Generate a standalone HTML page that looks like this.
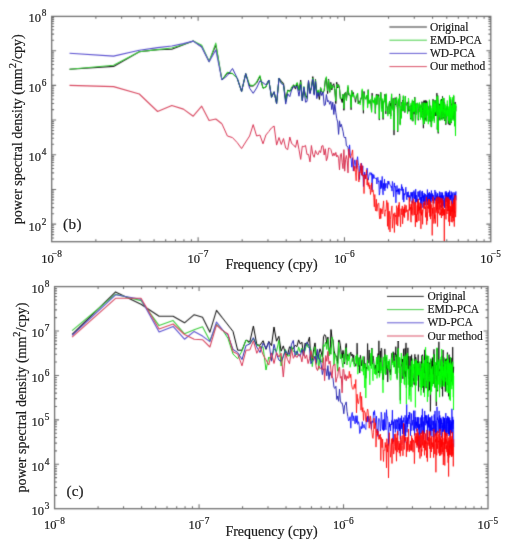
<!DOCTYPE html>
<html><head><meta charset="utf-8"><style>
html,body{margin:0;padding:0;background:#fff;width:512px;height:550px;overflow:hidden}
svg{display:block}

text{font-family:"Liberation Serif",serif;fill:#1a1a1a;stroke:#1a1a1a;stroke-width:0.2px}
.t{opacity:0.995}
</style></head><body>
<svg width="512" height="550" viewBox="0 0 512 550">
<defs><filter id="bl" x="0" y="0" width="512" height="550" filterUnits="userSpaceOnUse" color-interpolation-filters="sRGB"><feConvolveMatrix order="3" kernelMatrix="0.0192 0.1001 0.0192 0.1001 0.5228 0.1001 0.0192 0.1001 0.0192" divisor="1" edgeMode="none"/></filter></defs>
<rect width="512" height="550" fill="#fff"/>
<g class="t">
<g filter="url(#bl)"><g fill="none" stroke-width="0.8" stroke-linejoin="round"><path stroke="#222" stroke-width="1.1" d="M69.5 69.3L113.6 66.4 139.3 51.7 157.6 49.6 171.8 49.2 183.4 44.8 193.2 40.9 201.7 46.8 209.1 61.6 215.8 45.0 221.9 80.0"/><path stroke="#000" stroke-width="1.0" d="M221.9 80.0L227.4 73.0 232.5 73.6 237.2 78.2 241.6 91.5 245.7 73.6 249.6 86.0 253.2 86.0 256.6 83.0 259.9 76.5 263.0 88.2 265.9 87.0 268.8 80.0 271.5 97.3 274.1 91.8 276.6 103.6 279.0 78.2 281.3 81.1 283.5 83.4 285.7 100.1 287.7 90.2 289.8 90.8 291.7 89.9 293.6 84.8 295.5 89.1 297.2 83.3 299.0 90.4 300.7 80.1 302.3 99.7 303.9 88.7 305.5 95.3 307.0 97.4 308.5 80.7 310.0 92.8 311.4 87.2 312.8 76.6 314.2 93.9 315.5 79.5 316.8 93.3 318.1 91.3 319.4 99.5 320.6 87.7 321.8 91.9 323.0 92.7 324.2 90.4 325.3 80.4 326.4 77.6 327.6 93.6 328.6 79.3 329.7 92.2 330.8 82.4 331.8 89.9 332.8 85.2 333.8 83.7 334.8 90.0 335.8 103.6 336.7 82.2 337.7 88.0 338.6 84.6 339.5 88.3 340.4 98.6 341.3 99.0 342.2 102.5 343.0 94.5 343.9 110.3 344.7 93.2 345.6 92.5 346.4 100.0 347.2 92.5 348.0 87.5 348.8 95.1"/><path stroke="#000" d="M348.8 95.1L349.6 95.3 350.3 95.3 351.1 109.8 351.8 90.4 352.6 95.7 353.3 92.4 354.0 97.3 354.8 98.5 355.5 102.3 356.2 97.9 356.9 95.8 357.6 93.3 358.2 103.9 358.9 100.6 359.6 102.8 360.2 103.1 360.9 97.8 361.5 98.7 362.2 90.3 362.8 96.7 363.4 113.3 364.0 91.4 364.7 97.4 365.3 98.5 365.9 99.2 366.5 95.9 367.1 95.3 367.6 106.9 368.2 89.6 368.8 103.2 369.4 102.8 369.9 100.4 370.5 101.1 371.1 106.6 371.6 111.5 372.1 93.1 372.7 99.9 373.2 102.0 373.8 100.5 374.3 103.0 374.8 98.7 375.3 113.5 375.8 103.4 376.4 94.2 376.9 104.4 377.4 96.3 377.9 94.3 378.4 96.7 378.8 94.7 379.3 120.1 379.8 101.0 380.3 99.5 380.8 92.3 381.2 97.9 381.7 108.6 382.2 101.7 382.6 100.5 383.1 119.5 383.6 102.0 384.0 102.4 384.5 97.7 384.9 94.2 385.3 100.7 385.8 113.9 386.2 94.5 386.7 105.7 387.1 107.0 387.5 108.3 387.9 114.3 388.4 105.6 388.8 105.2 389.2 103.7 389.6 101.0 390.0 114.0 390.4 103.2 390.8 116.2 391.2 101.6 391.6 93.9 392.0 108.3 392.4 108.8 392.8 104.6 393.2 98.3 393.6 110.1 394.0 135.1 394.4 112.5 394.8 104.2 395.1 97.6 395.5 105.1 395.9 102.7 396.3 102.5 396.6 98.0 397.0 106.7 397.4 107.5 397.7 132.0 398.1 101.8 398.5 99.5 398.8 101.7 399.2 106.0 399.5 93.9 399.9 96.1 400.2 124.3 400.6 113.0 400.9 109.2 401.3 117.8 401.6 108.0 401.9 102.1 402.3 103.8 402.6 100.2 403.0 111.2 403.3 96.4 403.6 101.3 404.0 110.7 404.3 107.3 404.6 103.9 404.9 112.6 405.3 96.3 405.6 102.4 405.9 104.7 406.2 105.0 406.5 105.2 406.9 104.9 407.2 102.2 407.5 112.8 407.8 111.8 408.1 109.4 408.4 101.1 408.7 101.7 409.0 111.3 409.3 107.4 409.6 106.6 409.9 107.8 410.2 108.2 410.5 119.2 410.8 111.3 411.1 104.7 411.4 119.1 411.7 111.7 412.0 108.6 412.3 101.4 412.6 116.0 412.9 121.3 413.1 100.9 413.4 111.9 413.7 107.1 414.0 114.2 414.3 107.9 414.5 109.7 414.8 97.1 415.1 112.9 415.4 123.7 415.7 117.2 415.9 103.6 416.2 112.0 416.5 106.9 416.7 113.3 417.0 103.5 417.3 103.2 417.5 106.6 417.8 103.9 418.1 107.7 418.3 120.3 418.6 113.5 418.9 109.2 419.1 108.5 419.4 103.0 419.6 105.6 419.9 111.6 420.1 106.8 420.4 117.2 420.7 105.6 420.9 109.2 421.2 117.0 421.4 106.7 421.7 114.6 421.9 101.7 422.2 102.2 422.4 111.4 422.6 108.0 422.9 118.7 423.1 116.3 423.4 128.2 423.6 102.7 423.9 100.6 424.1 123.9 424.3 115.3 424.6 100.7 424.8 112.7 425.1 119.7 425.3 117.6 425.5 109.5 425.8 100.2 426.0 116.3 426.2 120.9 426.5 101.4 426.7 100.9 426.9 111.9 427.1 113.3 427.4 103.7 427.6 112.1 427.8 105.8 428.1 107.4 428.3 121.4 428.5 111.2 428.7 120.6 429.0 119.8 429.2 120.0 429.4 100.8 429.6 102.7 429.8 117.4 430.1 121.5 430.3 120.6 430.5 106.7 430.7 105.9 430.9 119.8 431.1 125.7 431.4 127.1 431.6 126.2 431.8 111.5 432.0 114.7 432.2 111.3 432.4 110.5 432.6 118.9 432.8 108.1 433.0 99.2 433.2 117.5 433.5 112.8 433.7 100.7 433.9 108.1 434.1 105.9 434.3 120.8 434.5 103.0 434.7 107.9 434.9 112.8 435.1 100.0 435.3 115.9 435.5 102.3 435.7 114.1 435.9 107.0 436.1 115.6 436.3 113.3 436.5 111.9 436.7 113.3 436.9 93.1 437.1 106.3 437.3 129.5 437.5 123.2 437.7 95.5 437.9 100.5 438.0 100.3 438.2 133.4 438.4 108.5 438.6 103.5 438.8 104.7 439.0 120.4 439.2 106.6 439.4 108.3 439.6 104.0 439.8 113.9 439.9 110.8 440.1 113.8 440.3 105.7 440.5 101.3 440.7 119.0 440.9 100.4 441.1 119.5 441.2 116.9 441.4 99.0 441.6 110.9 441.8 109.7 442.0 105.0 442.1 109.6 442.3 106.0 442.5 96.3 442.7 116.8 442.9 118.9 443.0 108.4 443.2 118.2 443.4 112.2 443.6 116.8 443.8 98.2 443.9 102.1 444.1 109.1 444.3 107.6 444.5 104.7 444.6 102.7 444.8 121.0 445.0 112.3 445.1 109.9 445.3 108.4 445.5 110.9 445.7 112.0 445.8 124.8 446.0 119.1 446.2 117.8 446.3 107.5 446.5 117.2 446.7 111.3 446.8 111.6 447.0 112.5 447.2 107.6 447.3 104.3 447.5 116.1 447.7 113.3 447.8 116.0 448.0 112.7 448.2 115.4 448.3 123.8 448.5 109.6 448.7 109.4 448.8 120.8 449.0 121.0 449.1 124.7 449.3 120.2 449.5 96.3 449.6 120.4 449.8 103.6 450.0 125.1 450.1 102.4 450.3 116.1 450.4 105.1 450.6 116.1 450.7 99.4 450.9 104.8 451.1 103.7 451.2 113.3 451.4 123.1 451.5 114.3 451.7 107.0 451.8 120.0 452.0 113.4 452.2 117.6 452.3 108.9 452.5 99.7 452.6 118.0 452.8 106.0 452.9 116.8 453.1 112.1 453.2 119.2 453.4 101.8 453.5 108.3 453.7 96.0 453.8 104.0 454.0 110.2 454.1 103.4 454.3 109.6 454.4 109.2 454.6 104.7 454.7 125.7 454.9 125.8 455.0 108.5 455.2 102.0 455.3 107.1 455.5 136.0 455.6 107.3 455.7 111.0 455.9 106.3 456.0 106.0"/><path stroke="#3ccc3c" stroke-width="1.1" d="M69.5 69.3L113.6 65.2 139.3 51.7 157.6 49.6 171.8 48.0 183.4 44.5 193.2 40.9 201.7 45.3 209.1 61.6 215.8 43.1 221.9 80.0"/><path stroke="#18d018" stroke-width="1.0" d="M221.9 80.0L227.4 72.2 232.5 73.6 237.2 78.2 241.6 91.5 245.7 73.6 249.6 85.0 253.2 85.5 256.6 82.0 259.9 75.5 263.0 88.2 265.9 87.0 268.8 80.0 271.5 97.3 274.1 91.8 276.6 103.6 279.0 78.2 281.3 82.7 283.5 84.8 285.7 102.1 287.7 90.5 289.8 91.9 291.7 86.8 293.6 85.3 295.5 86.0 297.2 82.5 299.0 90.4 300.7 81.7 302.3 101.0 303.9 86.4 305.5 96.5 307.0 98.6 308.5 81.7 310.0 91.6 311.4 88.0 312.8 78.0 314.2 93.6 315.5 80.4 316.8 95.0 318.1 89.9 319.4 95.0 320.6 87.9 321.8 91.4 323.0 92.8 324.2 90.4 325.3 80.9 326.4 76.7 327.6 90.8 328.6 80.0 329.7 92.3 330.8 83.5 331.8 88.5 332.8 85.8 333.8 86.7 334.8 89.3 335.8 101.1 336.7 84.1 337.7 87.0 338.6 85.2 339.5 88.5 340.4 99.1 341.3 98.0 342.2 98.6 343.0 94.0 343.9 108.7 344.7 94.5 345.6 92.7 346.4 100.7 347.2 92.0 348.0 85.3 348.8 94.4"/><path stroke="#00ff00" d="M348.8 94.4L349.6 93.5 350.3 95.7 351.1 107.5 351.8 90.8 352.6 96.7 353.3 93.9 354.0 95.8 354.8 97.3 355.5 99.1 356.2 95.8 356.9 94.7 357.6 93.1 358.2 103.6 358.9 102.6 359.6 102.8 360.2 104.9 360.9 98.8 361.5 99.2 362.2 88.8 362.8 96.4 363.4 110.2 364.0 93.4 364.7 98.0 365.3 99.3 365.9 97.7 366.5 96.0 367.1 95.1 367.6 108.1 368.2 90.1 368.8 104.0 369.4 103.6 369.9 100.0 370.5 99.4 371.1 105.7 371.6 112.4 372.1 95.7 372.7 101.2 373.2 102.9 373.8 100.2 374.3 104.3 374.8 97.6 375.3 112.8 375.8 103.0 376.4 95.3 376.9 104.7 377.4 95.7 377.9 95.2 378.4 97.1 378.8 96.8 379.3 118.9 379.8 98.2 380.3 99.8 380.8 92.7 381.2 99.1 381.7 111.6 382.2 100.2 382.6 98.6 383.1 118.1 383.6 101.0 384.0 101.7 384.5 99.8 384.9 95.4 385.3 101.1 385.8 111.2 386.2 93.6 386.7 105.4 387.1 107.0 387.5 108.5 387.9 116.2 388.4 107.5 388.8 105.4 389.2 102.8 389.6 101.2 390.0 114.0 390.4 106.4 390.8 119.0 391.2 101.1 391.6 93.9 392.0 103.2 392.4 110.3 392.8 104.9 393.2 99.0 393.6 110.5 394.0 130.1 394.4 111.6 394.8 106.3 395.1 98.8 395.5 103.8 395.9 102.9 396.3 101.6 396.6 96.9 397.0 106.0 397.4 109.8 397.7 131.2 398.1 101.7 398.5 98.7 398.8 103.2 399.2 107.6 399.5 95.4 399.9 96.6 400.2 125.2 400.6 106.0 400.9 107.2 401.3 118.6 401.6 109.7 401.9 103.2 402.3 104.3 402.6 101.4 403.0 110.8 403.3 95.4 403.6 100.0 404.0 111.1 404.3 106.1 404.6 102.7 404.9 111.6 405.3 96.6 405.6 104.1 405.9 104.2 406.2 104.7 406.5 104.9 406.9 104.8 407.2 103.7 407.5 113.9 407.8 109.3 408.1 108.0 408.4 98.1 408.7 99.3 409.0 108.7 409.3 110.0 409.6 107.2 409.9 108.4 410.2 106.9 410.5 118.3 410.8 108.8 411.1 103.0 411.4 120.4 411.7 113.6 412.0 109.7 412.3 99.7 412.6 114.3 412.9 121.0 413.1 102.1 413.4 111.9 413.7 101.5 414.0 112.1 414.3 105.5 414.5 111.1 414.8 97.7 415.1 110.3 415.4 125.0 415.7 117.4 415.9 103.9 416.2 110.5 416.5 104.1 416.7 114.7 417.0 104.1 417.3 102.7 417.5 107.6 417.8 103.8 418.1 108.6 418.3 119.4 418.6 112.5 418.9 110.2 419.1 107.2 419.4 102.3 419.6 107.0 419.9 112.0 420.1 108.0 420.4 119.8 420.7 104.5 420.9 108.0 421.2 117.8 421.4 107.3 421.7 115.6 421.9 104.4 422.2 102.8 422.4 110.8 422.6 110.2 422.9 120.2 423.1 116.2 423.4 124.4 423.6 105.9 423.9 102.8 424.1 123.2 424.3 113.8 424.6 102.6 424.8 110.5 425.1 117.9 425.3 117.3 425.5 108.0 425.8 103.0 426.0 114.8 426.2 121.6 426.5 103.6 426.7 103.2 426.9 112.2 427.1 113.5 427.4 101.7 427.6 115.5 427.8 106.5 428.1 109.7 428.3 124.2 428.5 109.7 428.7 121.9 429.0 118.2 429.2 119.1 429.4 99.7 429.6 102.3 429.8 120.1 430.1 118.9 430.3 120.4 430.5 107.0 430.7 105.6 430.9 117.3 431.1 126.5 431.4 125.1 431.6 126.4 431.8 108.3 432.0 115.7 432.2 110.3 432.4 106.8 432.6 121.2 432.8 108.6 433.0 100.3 433.2 118.7 433.5 110.7 433.7 101.0 433.9 108.8 434.1 102.4 434.3 122.8 434.5 103.4 434.7 110.1 434.9 112.6 435.1 100.3 435.3 112.1 435.5 102.9 435.7 111.4 435.9 107.4 436.1 114.8 436.3 114.1 436.5 112.0 436.7 111.4 436.9 96.6 437.1 109.0 437.3 129.5 437.5 120.9 437.7 95.6 437.9 102.9 438.0 100.3 438.2 132.1 438.4 109.9 438.6 103.5 438.8 103.4 439.0 117.3 439.2 105.3 439.4 105.2 439.6 105.6 439.8 114.6 439.9 109.5 440.1 113.4 440.3 106.4 440.5 99.8 440.7 120.5 440.9 100.1 441.1 118.4 441.2 116.7 441.4 100.8 441.6 110.2 441.8 111.7 442.0 105.1 442.1 110.5 442.3 108.2 442.5 97.8 442.7 120.2 442.9 118.5 443.0 108.9 443.2 117.4 443.4 116.0 443.6 117.0 443.8 97.9 443.9 101.2 444.1 112.5 444.3 108.1 444.5 104.6 444.6 103.0 444.8 119.9 445.0 110.1 445.1 113.8 445.3 104.5 445.5 110.7 445.7 112.7 445.8 123.6 446.0 118.9 446.2 116.1 446.3 106.1 446.5 116.7 446.7 115.0 446.8 110.5 447.0 113.9 447.2 109.8 447.3 100.5 447.5 115.8 447.7 109.8 447.8 116.0 448.0 110.0 448.2 118.6 448.3 120.6 448.5 107.7 448.7 106.5 448.8 119.8 449.0 121.3 449.1 123.4 449.3 116.7 449.5 95.4 449.6 121.8 449.8 103.3 450.0 123.8 450.1 103.6 450.3 117.9 450.4 103.1 450.6 114.4 450.7 97.2 450.9 104.7 451.1 106.7 451.2 109.4 451.4 122.5 451.5 114.2 451.7 106.4 451.8 119.1 452.0 112.4 452.2 118.9 452.3 107.8 452.5 97.3 452.6 113.0 452.8 107.8 452.9 115.5 453.1 110.0 453.2 120.7 453.4 104.7 453.5 107.9 453.7 94.9 453.8 104.2 454.0 111.1 454.1 104.2 454.3 109.2 454.4 110.8 454.6 103.7 454.7 126.3 454.9 126.4 455.0 111.4 455.2 104.0 455.3 109.5 455.5 136.0 455.6 109.8 455.7 111.9 455.9 104.2 456.0 107.7"/><path stroke="#5a50d0" stroke-width="1.1" d="M69.5 53.2L113.6 56.1 139.3 50.2 157.6 47.6 171.8 46.0 183.4 43.6 193.2 41.1 201.7 47.0 209.1 61.8 215.8 50.0 221.9 80.0"/><path stroke="#2828b0" stroke-width="1.0" d="M221.9 80.0L227.4 75.5 232.5 68.5 237.2 78.2 241.6 91.5 245.7 73.6 249.6 88.2 253.2 93.3 256.6 88.0 259.9 80.9 263.0 82.7 265.9 85.0 268.8 80.0 271.5 97.3 274.1 91.8 276.6 103.6 279.0 78.2 281.3 83.6 283.5 84.7 285.7 104.1 287.7 93.8 289.8 96.6 291.7 89.5 293.6 86.6 295.5 86.9 297.2 86.5 299.0 96.2 300.7 84.7 302.3 101.0 303.9 87.0 305.5 102.2 307.0 101.5 308.5 80.7 310.0 93.9 311.4 88.2 312.8 79.2 314.2 95.2 315.5 81.5 316.8 98.6 318.1 92.3 319.4 96.3 320.6 91.3 321.8 95.6 323.0 92.1 324.2 105.5 325.3 104.8 326.4 94.5 327.6 101.8 328.6 100.5 329.7 104.3 330.8 101.3 331.8 109.6 332.8 102.2 333.8 114.5 334.8 104.3 335.8 112.3 336.7 118.5 337.7 122.0 338.6 134.4 339.5 120.8 340.4 126.9 341.3 124.3 342.2 128.0 343.0 131.2 343.9 136.6 344.7 138.0 345.6 137.0 346.4 145.8 347.2 146.0 348.0 147.0 348.8 155.1"/><path stroke="#0000ff" d="M348.8 155.1L349.6 144.9 350.3 155.3 351.1 158.6 351.8 167.2 352.6 157.7 353.3 171.0 354.0 166.2 354.8 159.8 355.5 162.5 356.2 168.6 356.9 160.7 357.6 156.7 358.2 163.1 358.9 165.7 359.6 179.5 360.2 166.0 360.9 170.4 361.5 163.2 362.2 175.6 362.8 165.9 363.4 186.5 364.0 178.4 364.7 172.1 365.3 179.1 365.9 174.2 366.5 175.0 367.1 168.1 367.6 173.8 368.2 180.1 368.8 176.7 369.4 173.8 369.9 172.4 370.5 172.8 371.1 175.2 371.6 172.8 372.1 190.1 372.7 173.9 373.2 178.7 373.8 174.7 374.3 176.6 374.8 178.4 375.3 178.3 375.8 178.7 376.4 177.8 376.9 184.0 377.4 178.5 377.9 177.3 378.4 181.7 378.8 181.0 379.3 195.1 379.8 192.5 380.3 180.4 380.8 189.0 381.2 180.6 381.7 187.7 382.2 176.4 382.6 190.8 383.1 194.9 383.6 183.2 384.0 189.2 384.5 179.1 384.9 190.9 385.3 183.4 385.8 187.8 386.2 184.7 386.7 183.4 387.1 183.9 387.5 188.4 387.9 181.0 388.4 184.3 388.8 181.1 389.2 183.2 389.6 183.3 390.0 185.2 390.4 185.7 390.8 185.6 391.2 187.6 391.6 186.3 392.0 191.1 392.4 181.4 392.8 183.7 393.2 189.5 393.6 196.8 394.0 191.7 394.4 182.9 394.8 187.1 395.1 186.1 395.5 186.6 395.9 202.8 396.3 190.1 396.6 191.9 397.0 185.5 397.4 191.4 397.7 189.7 398.1 194.4 398.5 188.8 398.8 191.8 399.2 188.4 399.5 194.5 399.9 191.7 400.2 189.6 400.6 189.2 400.9 189.9 401.3 188.7 401.6 184.4 401.9 190.8 402.3 186.8 402.6 188.9 403.0 199.8 403.3 188.9 403.6 202.1 404.0 201.5 404.3 193.4 404.6 195.1 404.9 194.2 405.3 194.2 405.6 188.4 405.9 187.2 406.2 193.3 406.5 199.1 406.9 199.8 407.2 192.1 407.5 196.9 407.8 196.4 408.1 191.9 408.4 191.8 408.7 197.5 409.0 195.0 409.3 196.6 409.6 196.0 409.9 201.5 410.2 197.7 410.5 198.2 410.8 192.3 411.1 193.3 411.4 196.4 411.7 192.4 412.0 196.1 412.3 203.4 412.6 192.2 412.9 191.9 413.1 198.5 413.4 193.7 413.7 191.2 414.0 190.5 414.3 191.1 414.5 198.9 414.8 196.8 415.1 192.4 415.4 204.3 415.7 189.1 415.9 199.4 416.2 195.1 416.5 197.7 416.7 201.9 417.0 199.0 417.3 202.8 417.5 201.7 417.8 191.8 418.1 191.8 418.3 193.5 418.6 196.7 418.9 195.1 419.1 191.1 419.4 199.8 419.6 198.9 419.9 191.4 420.1 190.4 420.4 196.3 420.7 208.8 420.9 197.1 421.2 204.5 421.4 197.1 421.7 201.2 421.9 191.6 422.2 198.0 422.4 190.9 422.6 197.4 422.9 207.7 423.1 203.2 423.4 195.4 423.6 201.8 423.9 196.9 424.1 192.9 424.3 199.8 424.6 204.8 424.8 194.3 425.1 205.4 425.3 194.1 425.5 194.4 425.8 195.7 426.0 199.5 426.2 201.6 426.5 199.2 426.7 197.0 426.9 195.0 427.1 201.1 427.4 189.5 427.6 205.1 427.8 201.7 428.1 201.2 428.3 196.1 428.5 193.3 428.7 200.0 429.0 198.1 429.2 201.2 429.4 192.0 429.6 200.2 429.8 197.4 430.1 194.7 430.3 198.9 430.5 207.8 430.7 193.4 430.9 201.3 431.1 202.4 431.4 190.5 431.6 193.3 431.8 199.2 432.0 198.1 432.2 194.7 432.4 201.0 432.6 193.5 432.8 198.7 433.0 198.1 433.2 195.0 433.5 196.8 433.7 196.9 433.9 203.5 434.1 201.4 434.3 197.8 434.5 198.5 434.7 200.2 434.9 190.0 435.1 194.3 435.3 200.7 435.5 199.5 435.7 197.6 435.9 191.8 436.1 196.6 436.3 198.3 436.5 198.0 436.7 195.5 436.9 195.6 437.1 209.0 437.3 193.8 437.5 198.4 437.7 193.2 437.9 195.0 438.0 196.6 438.2 201.2 438.4 198.0 438.6 196.5 438.8 203.3 439.0 201.5 439.2 204.1 439.4 191.6 439.6 193.4 439.8 197.5 439.9 196.0 440.1 197.5 440.3 195.5 440.5 202.3 440.7 201.6 440.9 192.2 441.1 196.8 441.2 206.0 441.4 207.7 441.6 196.5 441.8 195.1 442.0 197.9 442.1 192.4 442.3 206.2 442.5 192.9 442.7 197.2 442.9 204.6 443.0 200.2 443.2 206.3 443.4 199.0 443.6 195.9 443.8 195.3 443.9 198.0 444.1 198.9 444.3 198.7 444.5 198.7 444.6 207.9 444.8 201.8 445.0 198.2 445.1 192.9 445.3 191.6 445.5 196.4 445.7 202.0 445.8 198.0 446.0 194.7 446.2 191.3 446.3 201.8 446.5 193.1 446.7 194.5 446.8 197.8 447.0 192.6 447.2 195.0 447.3 196.3 447.5 203.0 447.7 195.3 447.8 195.7 448.0 203.4 448.2 208.7 448.3 193.0 448.5 195.7 448.7 192.1 448.8 198.4 449.0 195.1 449.1 204.3 449.3 196.0 449.5 190.6 449.6 191.2 449.8 195.2 450.0 197.4 450.1 197.7 450.3 200.0 450.4 195.1 450.6 200.2 450.7 199.9 450.9 197.3 451.1 197.7 451.2 191.5 451.4 197.3 451.5 195.4 451.7 194.8 451.8 204.0 452.0 196.9 452.2 192.5 452.3 194.0 452.5 195.2 452.6 194.8 452.8 207.1 452.9 211.5 453.1 201.6 453.2 200.3 453.4 198.6 453.5 200.1 453.7 196.3 453.8 195.7 454.0 192.2 454.1 195.1 454.3 199.8 454.4 203.6 454.6 196.0 454.7 198.6 454.9 193.5 455.0 193.7 455.2 197.1 455.3 194.1 455.5 196.2 455.6 194.2 455.7 194.1 455.9 191.5 456.0 200.3"/><path stroke="#d84860" stroke-width="1.1" d="M69.5 85.4L113.6 86.6 139.3 94.0 157.6 111.5 171.8 105.5 183.4 109.1 193.2 116.2 201.7 106.2 209.1 120.5 215.8 119.0 221.9 123.7"/><path stroke="#d83050" stroke-width="1.0" d="M221.9 123.7L227.4 136.0 232.5 137.6 237.2 142.6 241.6 148.6 245.7 142.0 249.6 136.0 253.2 124.6 256.6 136.0 259.9 135.0 263.0 143.8 265.9 135.0 268.8 131.5 271.5 127.9 274.1 126.0 276.6 145.1 279.0 137.5 281.3 144.5 283.5 138.5 285.7 148.2 287.7 149.6 289.8 137.0 291.7 143.6 293.6 145.0 295.5 147.4 297.2 139.9 299.0 149.6 300.7 159.4 302.3 146.2 303.9 146.7 305.5 145.4 307.0 154.4 308.5 154.4 310.0 161.9 311.4 145.5 312.8 154.5 314.2 157.3 315.5 150.5 316.8 153.8 318.1 154.7 319.4 150.7 320.6 152.6 321.8 146.0 323.0 145.6 324.2 155.0 325.3 148.8 326.4 160.8 327.6 157.1 328.6 148.1 329.7 148.2 330.8 149.3 331.8 153.0 332.8 156.1 333.8 153.0 334.8 155.6 335.8 152.4 336.7 157.0 337.7 155.3 338.6 158.3 339.5 169.9 340.4 154.5 341.3 153.4 342.2 162.7 343.0 168.7 343.9 149.6 344.7 171.2 345.6 159.3 346.4 155.5 347.2 160.3 348.0 172.9 348.8 148.9"/><path stroke="#ff0000" d="M348.8 148.9L349.6 156.8 350.3 158.2 351.1 155.9 351.8 154.0 352.6 149.9 353.3 164.3 354.0 171.2 354.8 166.2 355.5 172.7 356.2 180.8 356.9 159.9 357.6 167.8 358.2 171.2 358.9 182.0 359.6 172.0 360.2 172.7 360.9 163.3 361.5 175.1 362.2 165.6 362.8 176.2 363.4 174.9 364.0 193.6 364.7 174.6 365.3 175.2 365.9 178.7 366.5 169.8 367.1 185.0 367.6 178.6 368.2 186.4 368.8 182.6 369.4 188.8 369.9 184.9 370.5 194.5 371.1 189.6 371.6 182.9 372.1 192.1 372.7 190.3 373.2 190.0 373.8 197.7 374.3 206.8 374.8 194.5 375.3 208.7 375.8 211.0 376.4 199.3 376.9 211.3 377.4 206.9 377.9 203.6 378.4 203.4 378.8 203.2 379.3 215.5 379.8 219.0 380.3 208.3 380.8 218.5 381.2 208.8 381.7 212.2 382.2 213.9 382.6 208.4 383.1 206.2 383.6 200.9 384.0 212.4 384.5 214.7 384.9 216.3 385.3 210.2 385.8 210.8 386.2 208.3 386.7 200.3 387.1 202.6 387.5 226.3 387.9 202.6 388.4 210.6 388.8 229.5 389.2 211.3 389.6 211.3 390.0 232.0 390.4 219.5 390.8 215.7 391.2 212.9 391.6 207.6 392.0 205.9 392.4 228.2 392.8 221.1 393.2 217.9 393.6 213.7 394.0 216.4 394.4 232.5 394.8 212.7 395.1 216.0 395.5 216.7 395.9 215.0 396.3 224.5 396.6 205.7 397.0 208.1 397.4 208.1 397.7 226.0 398.1 216.0 398.5 204.9 398.8 216.7 399.2 202.3 399.5 211.1 399.9 216.4 400.2 216.4 400.6 226.8 400.9 208.8 401.3 208.7 401.6 212.4 401.9 214.9 402.3 205.9 402.6 223.9 403.0 216.6 403.3 216.7 403.6 208.8 404.0 216.1 404.3 206.9 404.6 217.6 404.9 204.6 405.3 211.1 405.6 212.5 405.9 212.5 406.2 205.4 406.5 211.6 406.9 211.4 407.2 209.8 407.5 212.3 407.8 220.6 408.1 220.3 408.4 217.1 408.7 209.6 409.0 210.2 409.3 197.4 409.6 210.4 409.9 204.3 410.2 209.0 410.5 207.3 410.8 220.8 411.1 222.2 411.4 203.9 411.7 214.5 412.0 200.7 412.3 206.5 412.6 210.9 412.9 215.5 413.1 213.2 413.4 198.7 413.7 199.9 414.0 211.3 414.3 214.9 414.5 210.5 414.8 201.9 415.1 213.6 415.4 226.9 415.7 202.5 415.9 208.0 416.2 214.7 416.5 222.1 416.7 214.3 417.0 222.2 417.3 205.4 417.5 214.4 417.8 201.0 418.1 211.2 418.3 198.9 418.6 209.0 418.9 220.9 419.1 202.5 419.4 210.2 419.6 206.8 419.9 212.1 420.1 213.4 420.4 204.5 420.7 202.9 420.9 228.8 421.2 204.0 421.4 215.4 421.7 212.4 421.9 212.1 422.2 214.3 422.4 209.7 422.6 224.3 422.9 213.2 423.1 211.7 423.4 202.9 423.6 204.2 423.9 204.6 424.1 208.6 424.3 201.2 424.6 201.9 424.8 208.8 425.1 208.9 425.3 206.6 425.5 217.3 425.8 207.9 426.0 206.1 426.2 198.6 426.5 197.0 426.7 224.7 426.9 216.6 427.1 212.4 427.4 220.7 427.6 206.6 427.8 207.8 428.1 201.3 428.3 208.8 428.5 199.0 428.7 200.4 429.0 208.0 429.2 212.7 429.4 199.0 429.6 211.5 429.8 216.6 430.1 205.0 430.3 209.2 430.5 219.1 430.7 201.4 430.9 216.2 431.1 204.4 431.4 207.6 431.6 208.3 431.8 208.1 432.0 210.9 432.2 235.4 432.4 213.7 432.6 207.9 432.8 213.7 433.0 196.7 433.2 203.1 433.5 199.8 433.7 201.9 433.9 223.6 434.1 207.0 434.3 207.9 434.5 217.0 434.7 218.6 434.9 214.6 435.1 221.0 435.3 220.9 435.5 223.4 435.7 212.1 435.9 199.1 436.1 212.7 436.3 203.2 436.5 197.5 436.7 210.3 436.9 208.7 437.1 200.9 437.3 211.9 437.5 226.6 437.7 202.1 437.9 202.8 438.0 196.6 438.2 210.0 438.4 213.4 438.6 212.0 438.8 207.7 439.0 197.2 439.2 209.6 439.4 205.9 439.6 203.0 439.8 197.7 439.9 215.2 440.1 212.5 440.3 215.1 440.5 205.4 440.7 206.7 440.9 198.0 441.1 203.0 441.2 200.0 441.4 218.0 441.6 210.2 441.8 209.2 442.0 212.9 442.1 198.4 442.3 204.2 442.5 207.7 442.7 215.9 442.9 200.5 443.0 206.6 443.2 209.0 443.4 208.0 443.6 215.1 443.8 209.2 443.9 210.2 444.1 212.4 444.3 241.0 444.5 213.5 444.6 209.3 444.8 215.3 445.0 210.8 445.1 209.0 445.3 208.4 445.5 200.0 445.7 198.9 445.8 209.1 446.0 219.4 446.2 196.6 446.3 201.4 446.5 206.2 446.7 206.3 446.8 211.5 447.0 214.0 447.2 212.8 447.3 209.3 447.5 210.9 447.7 198.1 447.8 207.8 448.0 197.0 448.2 208.7 448.3 209.3 448.5 210.9 448.7 199.0 448.8 221.7 449.0 205.3 449.1 210.4 449.3 210.4 449.5 226.0 449.6 208.3 449.8 199.0 450.0 211.4 450.1 209.4 450.3 216.0 450.4 216.1 450.6 206.2 450.7 214.2 450.9 210.3 451.1 210.5 451.2 221.9 451.4 202.6 451.5 201.2 451.7 211.8 451.8 207.5 452.0 206.8 452.2 222.3 452.3 212.1 452.5 207.9 452.6 205.2 452.8 204.0 452.9 218.0 453.1 209.8 453.2 202.7 453.4 205.8 453.5 199.7 453.7 209.3 453.8 221.2 454.0 203.4 454.1 218.0 454.3 226.6 454.4 207.9 454.6 197.9 454.7 213.3 454.9 200.6 455.0 195.2 455.2 206.9 455.3 210.7 455.5 213.8 455.6 217.1 455.7 214.1 455.9 209.7 456.0 195.4"/></g><path d="M95.85 241.7v-2.4M95.85 16.4v2.4M121.62 241.7v-2.4M121.62 16.4v2.4M139.90 241.7v-2.4M139.90 16.4v2.4M154.08 241.7v-2.4M154.08 16.4v2.4M165.67 241.7v-2.4M165.67 16.4v2.4M175.47 241.7v-2.4M175.47 16.4v2.4M183.95 241.7v-2.4M183.95 16.4v2.4M191.44 241.7v-2.4M191.44 16.4v2.4M198.13 241.7v-4.4M198.13 16.4v4.4M242.18 241.7v-2.4M242.18 16.4v2.4M267.95 241.7v-2.4M267.95 16.4v2.4M286.23 241.7v-2.4M286.23 16.4v2.4M300.42 241.7v-2.4M300.42 16.4v2.4M312.00 241.7v-2.4M312.00 16.4v2.4M321.80 241.7v-2.4M321.80 16.4v2.4M330.29 241.7v-2.4M330.29 16.4v2.4M337.77 241.7v-2.4M337.77 16.4v2.4M344.47 241.7v-4.4M344.47 16.4v4.4M388.52 241.7v-2.4M388.52 16.4v2.4M414.29 241.7v-2.4M414.29 16.4v2.4M432.57 241.7v-2.4M432.57 16.4v2.4M446.75 241.7v-2.4M446.75 16.4v2.4M458.34 241.7v-2.4M458.34 16.4v2.4M468.13 241.7v-2.4M468.13 16.4v2.4M476.62 241.7v-2.4M476.62 16.4v2.4M484.10 241.7v-2.4M484.10 16.4v2.4M51.7 237.94h2.4M490.8 237.94h-2.4M51.7 234.58h2.4M490.8 234.58h-2.4M51.7 231.84h2.4M490.8 231.84h-2.4M51.7 229.51h2.4M490.8 229.51h-2.4M51.7 227.50h2.4M490.8 227.50h-2.4M51.7 225.73h2.4M490.8 225.73h-2.4M51.7 224.14h4.4M490.8 224.14h-4.4M51.7 213.70h2.4M490.8 213.70h-2.4M51.7 207.59h2.4M490.8 207.59h-2.4M51.7 203.25h2.4M490.8 203.25h-2.4M51.7 199.89h2.4M490.8 199.89h-2.4M51.7 197.15h2.4M490.8 197.15h-2.4M51.7 194.82h2.4M490.8 194.82h-2.4M51.7 192.81h2.4M490.8 192.81h-2.4M51.7 191.04h2.4M490.8 191.04h-2.4M51.7 189.45h4.4M490.8 189.45h-4.4M51.7 179.01h2.4M490.8 179.01h-2.4M51.7 172.90h2.4M490.8 172.90h-2.4M51.7 168.56h2.4M490.8 168.56h-2.4M51.7 165.20h2.4M490.8 165.20h-2.4M51.7 162.46h2.4M490.8 162.46h-2.4M51.7 160.13h2.4M490.8 160.13h-2.4M51.7 158.12h2.4M490.8 158.12h-2.4M51.7 156.35h2.4M490.8 156.35h-2.4M51.7 154.76h4.4M490.8 154.76h-4.4M51.7 144.32h2.4M490.8 144.32h-2.4M51.7 138.21h2.4M490.8 138.21h-2.4M51.7 133.87h2.4M490.8 133.87h-2.4M51.7 130.51h2.4M490.8 130.51h-2.4M51.7 127.77h2.4M490.8 127.77h-2.4M51.7 125.44h2.4M490.8 125.44h-2.4M51.7 123.43h2.4M490.8 123.43h-2.4M51.7 121.66h2.4M490.8 121.66h-2.4M51.7 120.07h4.4M490.8 120.07h-4.4M51.7 109.63h2.4M490.8 109.63h-2.4M51.7 103.52h2.4M490.8 103.52h-2.4M51.7 99.18h2.4M490.8 99.18h-2.4M51.7 95.82h2.4M490.8 95.82h-2.4M51.7 93.08h2.4M490.8 93.08h-2.4M51.7 90.75h2.4M490.8 90.75h-2.4M51.7 88.74h2.4M490.8 88.74h-2.4M51.7 86.97h2.4M490.8 86.97h-2.4M51.7 85.38h4.4M490.8 85.38h-4.4M51.7 74.94h2.4M490.8 74.94h-2.4M51.7 68.83h2.4M490.8 68.83h-2.4M51.7 64.49h2.4M490.8 64.49h-2.4M51.7 61.13h2.4M490.8 61.13h-2.4M51.7 58.39h2.4M490.8 58.39h-2.4M51.7 56.06h2.4M490.8 56.06h-2.4M51.7 54.05h2.4M490.8 54.05h-2.4M51.7 52.28h2.4M490.8 52.28h-2.4M51.7 50.69h4.4M490.8 50.69h-4.4M51.7 40.25h2.4M490.8 40.25h-2.4M51.7 34.14h2.4M490.8 34.14h-2.4M51.7 29.80h2.4M490.8 29.80h-2.4M51.7 26.44h2.4M490.8 26.44h-2.4M51.7 23.70h2.4M490.8 23.70h-2.4M51.7 21.37h2.4M490.8 21.37h-2.4M51.7 19.36h2.4M490.8 19.36h-2.4M51.7 17.59h2.4M490.8 17.59h-2.4" stroke="#707070" stroke-width="1.1" fill="none"/><rect x="51.7" y="16.4" width="439.1" height="225.3" fill="none" stroke="#707070" stroke-width="1.3"/></g><text x="41.2" y="263.0" font-size="12.5">10<tspan dx="-2" dy="-5.6" font-size="9.3">&#8722;</tspan><tspan dx="0.4" font-size="9.3">8</tspan></text><text x="187.5" y="263.0" font-size="12.5">10<tspan dx="-2" dy="-5.6" font-size="9.3">&#8722;</tspan><tspan dx="0.4" font-size="9.3">7</tspan></text><text x="333.9" y="263.0" font-size="12.5">10<tspan dx="-2" dy="-5.6" font-size="9.3">&#8722;</tspan><tspan dx="0.4" font-size="9.3">6</tspan></text><text x="480.2" y="263.0" font-size="12.5">10<tspan dx="-2" dy="-5.6" font-size="9.3">&#8722;</tspan><tspan dx="0.4" font-size="9.3">5</tspan></text><text x="46.5" y="22.4" text-anchor="end" font-size="12.5">10<tspan dx="0.8" dy="-6" font-size="9.3">8</tspan></text><text x="46.5" y="91.8" text-anchor="end" font-size="12.5">10<tspan dx="0.8" dy="-6" font-size="9.3">6</tspan></text><text x="46.5" y="161.2" text-anchor="end" font-size="12.5">10<tspan dx="0.8" dy="-6" font-size="9.3">4</tspan></text><text x="46.5" y="230.5" text-anchor="end" font-size="12.5">10<tspan dx="0.8" dy="-6" font-size="9.3">2</tspan></text>
<g filter="url(#bl)"><g fill="none" stroke-width="0.8" stroke-linejoin="round"><path stroke="#222" stroke-width="1.1" d="M72.1 334.5L115.6 291.9 141.0 304.2 159.1 316.2 173.1 316.2 184.5 322.8 194.2 314.7 202.5 317.3 209.9 332.2 216.5 310.3 222.5 318.0"/><path stroke="#000" stroke-width="1.0" d="M222.5 318.0L228.0 325.0 233.0 331.4 237.7 350.2 242.0 350.2 246.0 340.0 249.8 342.0 253.4 326.0 256.8 344.7 260.0 345.3 263.1 340.7 266.0 349.4 268.8 341.4 271.5 345.7 274.0 327.0 276.5 341.2 278.9 336.3 281.1 351.2 283.3 345.9 285.5 353.8 287.5 355.2 289.5 346.8 291.5 348.1 293.3 348.7 295.1 345.2 296.9 346.7 298.6 339.9 300.3 344.1 301.9 342.2 303.5 354.8 305.1 343.1 306.6 345.3 308.1 341.6 309.5 337.0 310.9 360.0 312.3 360.1 313.6 349.8 315.0 342.9 316.3 354.0 317.5 357.2 318.8 354.2 320.0 348.8 321.2 352.1 322.4 357.1 323.5 336.9 324.6 334.6 325.7 335.9 326.8 343.7 327.9 337.1 329.0 351.1 330.0 354.1 331.0 329.5 332.0 338.0 333.0 339.9 334.0 350.2 334.9 354.9 335.9 355.6 336.8 356.4 337.7 363.5 338.6 340.3 339.5 340.4 340.4 345.9 341.3 354.0 342.1 358.2 343.0 350.4 343.8 356.4 344.6 363.9 345.4 350.0 346.2 343.5 347.0 359.4 347.8 354.4"/><path stroke="#000" d="M347.8 354.4L348.6 355.2 349.3 359.2 350.1 355.0 350.8 352.0 351.5 355.8 352.3 354.0 353.0 361.7 353.7 354.9 354.4 363.8 355.1 363.4 355.8 366.3 356.5 362.1 357.1 343.1 357.8 362.1 358.5 366.6 359.1 357.8 359.7 373.0 360.4 355.3 361.0 359.6 361.6 366.0 362.3 359.8 362.9 362.9 363.5 369.7 364.1 356.5 364.7 368.1 365.3 363.5 365.8 378.3 366.4 367.2 367.0 368.9 367.6 343.5 368.1 362.8 368.7 362.8 369.2 350.0 369.8 362.9 370.3 365.8 370.9 357.7 371.4 355.9 371.9 348.0 372.5 364.2 373.0 355.9 373.5 358.7 374.0 364.1 374.5 369.8 375.0 369.3 375.5 365.1 376.0 374.3 376.5 359.9 377.0 363.0 377.5 364.2 378.0 353.5 378.4 372.9 378.9 340.8 379.4 376.2 379.8 362.7 380.3 350.9 380.8 370.5 381.2 348.1 381.7 348.7 382.1 359.5 382.6 379.6 383.0 372.4 383.5 379.7 383.9 361.1 384.3 361.3 384.8 348.9 385.2 355.8 385.6 361.7 386.0 374.6 386.5 356.8 386.9 368.7 387.3 365.2 387.7 382.0 388.1 370.6 388.5 361.3 388.9 365.1 389.3 361.3 389.7 372.3 390.1 369.4 390.5 375.0 390.9 368.8 391.3 358.7 391.7 353.4 392.0 353.2 392.4 355.0 392.8 362.8 393.2 351.7 393.6 355.6 393.9 360.0 394.3 367.0 394.7 358.2 395.0 352.8 395.4 356.7 395.8 346.7 396.1 357.0 396.5 354.7 396.8 371.0 397.2 378.4 397.5 349.5 397.9 347.0 398.2 333.8 398.6 356.8 398.9 367.6 399.3 359.6 399.6 358.4 399.9 379.9 400.3 400.3 400.6 383.4 401.0 377.9 401.3 358.6 401.6 364.5 401.9 366.4 402.3 364.3 402.6 359.0 402.9 378.8 403.2 359.3 403.6 348.8 403.9 376.1 404.2 370.4 404.5 381.3 404.8 376.8 405.1 348.3 405.4 376.7 405.7 365.6 406.0 342.9 406.4 387.8 406.7 360.4 407.0 368.5 407.3 353.6 407.6 359.6 407.9 347.8 408.2 369.9 408.5 378.8 408.7 356.1 409.0 376.7 409.3 377.8 409.6 391.3 409.9 363.1 410.2 356.2 410.5 386.8 410.8 369.6 411.0 386.4 411.3 367.6 411.6 354.7 411.9 371.5 412.2 372.7 412.4 377.1 412.7 373.0 413.0 373.5 413.3 380.7 413.5 378.5 413.8 379.1 414.1 384.6 414.4 366.7 414.6 369.4 414.9 354.3 415.1 385.4 415.4 381.5 415.7 357.1 415.9 358.2 416.2 360.3 416.5 379.9 416.7 366.5 417.0 367.8 417.2 369.4 417.5 361.3 417.7 362.2 418.0 363.5 418.2 354.6 418.5 391.3 418.8 373.7 419.0 366.8 419.2 373.6 419.5 372.2 419.7 363.9 420.0 373.8 420.2 371.4 420.5 377.4 420.7 378.5 421.0 380.2 421.2 361.6 421.4 384.9 421.7 360.4 421.9 355.4 422.2 383.2 422.4 387.5 422.6 354.7 422.9 359.9 423.1 383.5 423.3 365.7 423.6 387.6 423.8 392.6 424.0 375.7 424.3 390.9 424.5 386.3 424.7 349.8 424.9 373.5 425.2 356.4 425.4 371.7 425.6 354.1 425.8 380.6 426.1 388.2 426.3 357.2 426.5 365.5 426.7 361.3 426.9 355.9 427.2 356.1 427.4 382.5 427.6 361.8 427.8 373.0 428.0 379.8 428.2 391.2 428.5 367.5 428.7 362.0 428.9 377.0 429.1 368.8 429.3 362.8 429.5 390.1 429.7 383.9 429.9 372.6 430.1 379.8 430.4 411.4 430.6 401.2 430.8 359.2 431.0 376.7 431.2 380.9 431.4 369.7 431.6 382.7 431.8 360.9 432.0 370.7 432.2 384.1 432.4 357.5 432.6 375.7 432.8 376.1 433.0 364.3 433.2 384.0 433.4 365.9 433.6 382.8 433.8 351.8 434.0 349.3 434.2 362.7 434.4 354.5 434.6 366.2 434.8 383.7 435.0 387.6 435.2 371.1 435.3 371.3 435.5 365.2 435.7 376.8 435.9 384.0 436.1 363.5 436.3 406.0 436.5 388.4 436.7 368.6 436.9 352.8 437.0 348.3 437.2 376.9 437.4 372.6 437.6 391.3 437.8 379.2 438.0 361.2 438.2 366.4 438.3 375.9 438.5 360.3 438.7 357.9 438.9 341.8 439.1 370.4 439.3 371.9 439.4 369.8 439.6 387.3 439.8 385.4 440.0 380.1 440.1 368.7 440.3 376.2 440.5 366.0 440.7 367.7 440.9 372.3 441.0 359.4 441.2 374.0 441.4 361.5 441.6 376.3 441.7 355.8 441.9 382.5 442.1 389.1 442.2 370.1 442.4 375.8 442.6 396.4 442.8 374.6 442.9 382.5 443.1 350.0 443.3 377.7 443.4 378.6 443.6 368.4 443.8 369.1 443.9 372.6 444.1 364.6 444.3 385.4 444.4 369.9 444.6 359.4 444.8 362.8 444.9 379.4 445.1 370.7 445.3 391.6 445.4 381.9 445.6 359.5 445.8 365.2 445.9 361.7 446.1 363.4 446.2 358.6 446.4 371.8 446.6 376.8 446.7 370.1 446.9 365.5 447.0 369.2 447.2 385.2 447.4 352.5 447.5 380.4 447.7 365.7 447.8 364.0 448.0 369.5 448.1 372.8 448.3 369.3 448.5 396.3 448.6 371.1 448.8 383.6 448.9 360.8 449.1 354.7 449.2 365.4 449.4 372.8 449.5 375.2 449.7 366.6 449.8 366.2 450.0 357.6 450.1 369.8 450.3 363.0 450.4 376.4 450.6 359.7 450.8 364.4 450.9 365.7 451.0 375.3 451.2 357.9 451.3 363.1 451.5 363.1 451.6 381.6 451.8 377.7 451.9 367.9 452.1 370.4 452.2 376.6 452.4 376.8 452.5 372.4 452.7 347.1 452.8 360.7 453.0 379.2 453.1 371.5 453.3 377.8 453.4 366.9 453.5 371.6 453.7 366.8"/><path stroke="#3ccc3c" stroke-width="1.1" d="M72.1 330.7L115.6 294.2 141.0 300.6 159.1 325.6 173.1 320.6 184.5 333.8 194.2 329.8 202.5 326.7 209.9 340.8 216.5 324.4 222.5 329.8"/><path stroke="#18d018" stroke-width="1.0" d="M222.5 329.8L228.0 338.4 233.0 354.0 237.7 358.7 242.0 351.0 246.0 340.0 249.8 344.0 253.4 338.4 256.8 345.0 260.0 346.5 263.1 347.1 266.0 370.0 268.8 357.0 271.5 360.1 274.0 348.8 276.5 351.5 278.9 340.4 281.1 366.0 283.3 355.7 285.5 349.5 287.5 356.0 289.5 355.9 291.5 346.2 293.3 351.4 295.1 351.2 296.9 355.1 298.6 346.9 300.3 352.5 301.9 348.0 303.5 353.8 305.1 350.5 306.6 343.6 308.1 347.4 309.5 347.2 310.9 348.9 312.3 366.6 313.6 355.2 315.0 346.7 316.3 364.4 317.5 354.9 318.8 369.3 320.0 354.2 321.2 360.8 322.4 362.7 323.5 344.6 324.6 346.4 325.7 342.1 326.8 349.5 327.9 338.8 329.0 356.0 330.0 347.7 331.0 354.3 332.0 337.1 333.0 341.2 334.0 365.1 334.9 353.4 335.9 357.3 336.8 361.5 337.7 371.2 338.6 342.3 339.5 350.9 340.4 358.9 341.3 354.1 342.1 362.6 343.0 367.5 343.8 354.1 344.6 362.2 345.4 350.4 346.2 347.7 347.0 364.9 347.8 355.6"/><path stroke="#00ff00" d="M347.8 355.6L348.6 361.1 349.3 353.4 350.1 367.3 350.8 364.2 351.5 360.6 352.3 357.8 353.0 358.0 353.7 364.4 354.4 366.7 355.1 362.3 355.8 355.9 356.5 363.9 357.1 354.5 357.8 374.2 358.5 367.5 359.1 357.2 359.7 365.2 360.4 358.7 361.0 370.5 361.6 369.7 362.3 371.4 362.9 356.3 363.5 375.2 364.1 363.8 364.7 387.9 365.3 363.6 365.8 398.0 366.4 370.7 367.0 368.2 367.6 360.0 368.1 370.7 368.7 365.6 369.2 366.7 369.8 384.8 370.3 361.5 370.9 353.2 371.4 368.6 371.9 348.8 372.5 375.1 373.0 380.8 373.5 363.8 374.0 363.5 374.5 373.9 375.0 368.7 375.5 374.9 376.0 367.5 376.5 357.0 377.0 378.4 377.5 368.9 378.0 357.6 378.4 370.9 378.9 355.2 379.4 377.5 379.8 375.3 380.3 362.3 380.8 373.2 381.2 357.6 381.7 370.2 382.1 366.7 382.6 378.0 383.0 392.8 383.5 356.9 383.9 373.9 384.3 368.6 384.8 356.2 385.2 354.5 385.6 375.0 386.0 367.6 386.5 362.4 386.9 355.0 387.3 364.7 387.7 368.6 388.1 361.0 388.5 367.3 388.9 370.5 389.3 359.3 389.7 370.6 390.1 378.7 390.5 380.1 390.9 380.2 391.3 372.1 391.7 358.2 392.0 359.5 392.4 352.7 392.8 364.8 393.2 365.0 393.6 361.4 393.9 367.4 394.3 360.7 394.7 362.8 395.0 365.4 395.4 373.9 395.8 354.9 396.1 373.0 396.5 372.8 396.8 373.7 397.2 379.8 397.5 361.2 397.9 351.9 398.2 348.3 398.6 366.5 398.9 364.9 399.3 373.2 399.6 357.0 399.9 364.8 400.3 403.9 400.6 366.5 401.0 383.0 401.3 353.1 401.6 363.6 401.9 362.5 402.3 362.4 402.6 367.2 402.9 373.7 403.2 376.4 403.6 356.3 403.9 362.6 404.2 384.1 404.5 374.6 404.8 385.1 405.1 356.3 405.4 371.2 405.7 367.8 406.0 354.5 406.4 404.2 406.7 365.4 407.0 370.2 407.3 352.9 407.6 354.1 407.9 362.0 408.2 384.8 408.5 368.9 408.7 370.3 409.0 399.5 409.3 387.0 409.6 395.5 409.9 365.7 410.2 373.0 410.5 385.9 410.8 387.3 411.0 401.7 411.3 362.9 411.6 360.8 411.9 384.3 412.2 367.0 412.4 387.2 412.7 358.6 413.0 375.2 413.3 372.7 413.5 364.1 413.8 372.0 414.1 382.5 414.4 367.8 414.6 367.1 414.9 361.0 415.1 367.6 415.4 407.4 415.7 359.3 415.9 370.0 416.2 371.6 416.5 385.4 416.7 360.4 417.0 380.6 417.2 362.9 417.5 375.6 417.7 364.9 418.0 375.1 418.2 363.1 418.5 372.2 418.8 374.7 419.0 367.7 419.2 374.9 419.5 376.3 419.7 361.5 420.0 387.2 420.2 377.6 420.5 371.1 420.7 375.4 421.0 395.4 421.2 367.9 421.4 389.9 421.7 363.5 421.9 366.3 422.2 387.3 422.4 380.9 422.6 356.0 422.9 363.5 423.1 386.1 423.3 363.2 423.6 374.5 423.8 378.4 424.0 372.9 424.3 378.5 424.5 397.0 424.7 360.0 424.9 367.5 425.2 367.7 425.4 371.6 425.6 347.2 425.8 387.0 426.1 359.0 426.3 369.6 426.5 380.4 426.7 362.7 426.9 355.2 427.2 377.5 427.4 401.8 427.6 378.5 427.8 362.9 428.0 396.8 428.2 387.3 428.5 379.0 428.7 355.9 428.9 366.6 429.1 373.4 429.3 373.8 429.5 378.5 429.7 381.5 429.9 377.3 430.1 364.0 430.4 391.1 430.6 394.6 430.8 358.5 431.0 390.1 431.2 368.5 431.4 373.6 431.6 391.6 431.8 369.4 432.0 376.8 432.2 381.5 432.4 366.4 432.6 386.3 432.8 380.8 433.0 374.4 433.2 383.5 433.4 374.8 433.6 374.8 433.8 354.3 434.0 357.9 434.2 360.3 434.4 368.6 434.6 375.6 434.8 382.0 435.0 387.6 435.2 380.4 435.3 362.0 435.5 384.8 435.7 379.2 435.9 383.4 436.1 381.4 436.3 401.6 436.5 364.9 436.7 375.4 436.9 364.1 437.0 347.7 437.2 385.1 437.4 390.2 437.6 371.1 437.8 370.1 438.0 361.3 438.2 365.7 438.3 384.5 438.5 379.0 438.7 362.1 438.9 365.5 439.1 359.3 439.3 370.2 439.4 372.9 439.6 397.2 439.8 371.2 440.0 387.5 440.1 372.4 440.3 384.4 440.5 366.1 440.7 369.8 440.9 378.0 441.0 356.9 441.2 378.7 441.4 371.3 441.6 372.2 441.7 349.0 441.9 386.8 442.1 376.2 442.2 361.1 442.4 376.0 442.6 368.6 442.8 380.4 442.9 376.0 443.1 366.6 443.3 380.0 443.4 383.1 443.6 385.7 443.8 370.7 443.9 384.3 444.1 362.9 444.3 386.9 444.4 357.6 444.6 374.0 444.8 367.4 444.9 376.2 445.1 370.9 445.3 360.8 445.4 377.4 445.6 364.2 445.8 372.6 445.9 381.6 446.1 370.4 446.2 376.1 446.4 391.0 446.6 380.5 446.7 360.5 446.9 368.3 447.0 378.6 447.2 392.6 447.4 354.5 447.5 373.4 447.7 368.4 447.8 364.7 448.0 381.5 448.1 384.1 448.3 359.1 448.5 393.1 448.6 370.8 448.8 381.8 448.9 362.4 449.1 377.1 449.2 365.7 449.4 399.5 449.5 391.8 449.7 363.3 449.8 373.1 450.0 364.3 450.1 386.8 450.3 370.5 450.4 400.7 450.6 357.1 450.8 377.6 450.9 363.0 451.0 370.6 451.2 372.7 451.3 374.0 451.5 364.7 451.6 373.1 451.8 389.2 451.9 366.7 452.1 375.1 452.2 385.5 452.4 376.0 452.5 373.6 452.7 361.7 452.8 368.7 453.0 383.9 453.1 373.1 453.3 397.2 453.4 372.8 453.5 410.0 453.7 376.0"/><path stroke="#5a50d0" stroke-width="1.1" d="M72.1 335.4L115.6 294.8 141.0 299.2 159.1 332.0 173.1 326.4 184.5 339.2 194.2 331.4 202.5 336.1 209.9 341.6 216.5 322.0 222.5 329.8"/><path stroke="#2828b0" stroke-width="1.0" d="M222.5 329.8L228.0 335.3 233.0 349.4 237.7 352.5 242.0 359.5 246.0 345.5 249.8 344.0 253.4 337.7 256.8 347.0 260.0 352.5 263.1 343.1 266.0 348.5 268.8 341.9 271.5 361.2 274.0 344.3 276.5 353.8 278.9 360.1 281.1 361.4 283.3 356.6 285.5 350.7 287.5 353.8 289.5 354.1 291.5 344.2 293.3 340.4 295.1 356.4 296.9 350.9 298.6 355.6 300.3 356.1 301.9 349.4 303.5 355.4 305.1 346.7 306.6 342.4 308.1 343.6 309.5 348.0 310.9 363.8 312.3 361.0 313.6 360.2 315.0 356.0 316.3 362.9 317.5 349.4 318.8 359.1 320.0 358.8 321.2 364.7 322.4 374.6 323.5 368.9 324.6 369.4 325.7 368.8 326.8 375.8 327.9 365.6 329.0 379.6 330.0 371.6 331.0 375.7 332.0 376.2 333.0 378.5 334.0 387.6 334.9 388.3 335.9 386.3 336.8 399.5 337.7 396.0 338.6 401.3 339.5 389.0 340.4 401.0 341.3 403.2 342.1 402.9 343.0 407.1 343.8 413.8 344.6 405.1 345.4 404.6 346.2 401.9 347.0 411.3 347.8 416.3"/><path stroke="#0000ff" d="M347.8 416.3L348.6 420.9 349.3 420.0 350.1 416.7 350.8 428.2 351.5 414.7 352.3 412.4 353.0 420.9 353.7 415.8 354.4 419.3 355.1 423.9 355.8 415.7 356.5 422.6 357.1 415.7 357.8 424.4 358.5 421.7 359.1 423.6 359.7 433.5 360.4 432.0 361.0 426.4 361.6 428.9 362.3 421.7 362.9 428.2 363.5 425.2 364.1 424.4 364.7 428.0 365.3 428.4 365.8 429.5 366.4 417.7 367.0 422.1 367.6 416.2 368.1 421.8 368.7 416.2 369.2 418.4 369.8 420.9 370.3 423.6 370.9 421.5 371.4 429.2 371.9 421.8 372.5 420.8 373.0 422.7 373.5 411.8 374.0 415.1 374.5 410.5 375.0 415.8 375.5 425.2 376.0 422.4 376.5 416.0 377.0 432.9 377.5 428.9 378.0 436.5 378.4 421.0 378.9 418.4 379.4 419.9 379.8 420.8 380.3 431.1 380.8 428.5 381.2 412.2 381.7 414.6 382.1 423.5 382.6 429.8 383.0 419.8 383.5 430.8 383.9 419.3 384.3 430.2 384.8 412.5 385.2 419.7 385.6 427.3 386.0 429.8 386.5 409.7 386.9 416.7 387.3 416.6 387.7 418.9 388.1 425.3 388.5 445.5 388.9 429.6 389.3 422.1 389.7 427.1 390.1 424.1 390.5 430.9 390.9 424.0 391.3 425.0 391.7 420.5 392.0 424.7 392.4 410.1 392.8 428.1 393.2 441.8 393.6 421.6 393.9 428.7 394.3 419.5 394.7 419.6 395.0 423.4 395.4 432.4 395.8 419.7 396.1 428.7 396.5 428.9 396.8 419.2 397.2 421.6 397.5 420.3 397.9 435.3 398.2 418.6 398.6 417.5 398.9 429.1 399.3 423.6 399.6 430.8 399.9 418.3 400.3 439.5 400.6 424.8 401.0 417.8 401.3 428.9 401.6 415.7 401.9 427.2 402.3 421.3 402.6 434.2 402.9 420.2 403.2 422.0 403.6 417.7 403.9 417.6 404.2 433.7 404.5 424.2 404.8 442.6 405.1 415.3 405.4 427.2 405.7 436.0 406.0 420.4 406.4 423.9 406.7 404.5 407.0 432.3 407.3 417.6 407.6 427.0 407.9 419.8 408.2 420.5 408.5 415.1 408.7 418.5 409.0 424.0 409.3 412.1 409.6 418.6 409.9 412.6 410.2 420.4 410.5 435.7 410.8 423.5 411.0 430.9 411.3 424.0 411.6 413.5 411.9 422.0 412.2 425.4 412.4 424.6 412.7 421.3 413.0 420.1 413.3 430.5 413.5 410.7 413.8 420.9 414.1 420.5 414.4 421.6 414.6 435.4 414.9 410.6 415.1 427.2 415.4 428.4 415.7 417.0 415.9 422.3 416.2 425.8 416.5 421.7 416.7 431.5 417.0 421.7 417.2 417.4 417.5 427.7 417.7 420.2 418.0 417.0 418.2 419.9 418.5 429.4 418.8 417.6 419.0 449.0 419.2 424.9 419.5 428.4 419.7 423.9 420.0 434.7 420.2 428.8 420.5 425.8 420.7 417.5 421.0 422.1 421.2 433.9 421.4 429.0 421.7 415.4 421.9 426.8 422.2 419.5 422.4 408.8 422.6 433.0 422.9 430.2 423.1 430.2 423.3 421.4 423.6 439.4 423.8 419.8 424.0 417.3 424.3 418.8 424.5 433.6 424.7 410.9 424.9 416.3 425.2 418.5 425.4 415.3 425.6 423.5 425.8 425.3 426.1 417.3 426.3 415.6 426.5 423.5 426.7 420.0 426.9 415.3 427.2 416.5 427.4 440.3 427.6 420.6 427.8 431.5 428.0 421.3 428.2 425.6 428.5 414.5 428.7 426.8 428.9 418.0 429.1 427.9 429.3 417.3 429.5 419.0 429.7 432.5 429.9 424.5 430.1 435.1 430.4 430.8 430.6 418.8 430.8 417.3 431.0 435.9 431.2 425.2 431.4 430.5 431.6 427.1 431.8 415.8 432.0 425.2 432.2 420.6 432.4 429.5 432.6 427.8 432.8 431.0 433.0 430.1 433.2 437.0 433.4 429.7 433.6 420.9 433.8 437.3 434.0 415.1 434.2 414.4 434.4 417.7 434.6 417.3 434.8 432.2 435.0 410.9 435.2 432.0 435.3 423.4 435.5 426.3 435.7 435.6 435.9 422.3 436.1 420.5 436.3 421.3 436.5 434.4 436.7 431.8 436.9 427.4 437.0 406.8 437.2 420.1 437.4 418.1 437.6 417.5 437.8 418.8 438.0 422.4 438.2 432.8 438.3 429.9 438.5 419.8 438.7 422.8 438.9 415.5 439.1 410.9 439.3 414.5 439.4 419.9 439.6 429.4 439.8 415.4 440.0 435.3 440.1 423.0 440.3 430.8 440.5 418.0 440.7 428.5 440.9 418.1 441.0 417.7 441.2 421.9 441.4 424.0 441.6 419.5 441.7 428.5 441.9 437.6 442.1 422.8 442.2 428.1 442.4 425.6 442.6 432.2 442.8 428.8 442.9 422.8 443.1 416.7 443.3 431.6 443.4 424.9 443.6 417.2 443.8 418.2 443.9 430.3 444.1 418.1 444.3 431.5 444.4 418.0 444.6 424.5 444.8 428.4 444.9 420.4 445.1 423.2 445.3 426.6 445.4 435.1 445.6 424.2 445.8 413.1 445.9 419.6 446.1 419.7 446.2 434.1 446.4 435.8 446.6 418.2 446.7 430.6 446.9 432.1 447.0 423.6 447.2 422.6 447.4 423.2 447.5 416.1 447.7 426.2 447.8 431.6 448.0 434.0 448.1 427.8 448.3 416.7 448.5 433.9 448.6 424.3 448.8 422.7 448.9 417.9 449.1 436.0 449.2 419.4 449.4 429.3 449.5 433.0 449.7 417.6 449.8 434.8 450.0 420.2 450.1 430.3 450.3 426.8 450.4 435.8 450.6 424.4 450.8 427.8 450.9 420.4 451.0 429.6 451.2 433.0 451.3 421.9 451.5 421.9 451.6 427.5 451.8 432.8 451.9 408.8 452.1 426.1 452.2 433.5 452.4 424.2 452.5 424.7 452.7 416.8 452.8 417.9 453.0 428.9 453.1 420.2 453.3 423.3 453.4 423.6 453.5 419.8 453.7 447.1"/><path stroke="#d84860" stroke-width="1.1" d="M72.1 337.2L115.6 298.3 141.0 298.3 159.1 329.0 173.1 324.0 184.5 334.5 194.2 339.2 202.5 339.7 209.9 347.0 216.5 325.2 222.5 330.6"/><path stroke="#d83050" stroke-width="1.0" d="M222.5 330.6L228.0 333.8 233.0 351.7 237.7 354.0 242.0 365.8 246.0 350.2 249.8 350.0 253.4 340.8 256.8 353.3 260.0 346.5 263.1 354.8 266.0 359.9 268.8 365.0 271.5 352.9 274.0 363.5 276.5 352.5 278.9 357.0 281.1 353.2 283.3 377.0 285.5 353.1 287.5 359.6 289.5 363.8 291.5 349.3 293.3 358.3 295.1 355.0 296.9 357.5 298.6 354.4 300.3 355.0 301.9 361.9 303.5 350.8 305.1 358.5 306.6 354.9 308.1 363.6 309.5 358.5 310.9 350.5 312.3 358.0 313.6 357.6 315.0 358.6 316.3 368.0 317.5 370.6 318.8 365.9 320.0 368.1 321.2 368.5 322.4 369.9 323.5 357.6 324.6 380.7 325.7 355.6 326.8 361.3 327.9 351.4 329.0 364.1 330.0 361.0 331.0 371.0 332.0 378.2 333.0 365.7 334.0 365.3 334.9 363.9 335.9 382.3 336.8 378.4 337.7 376.3 338.6 368.7 339.5 367.0 340.4 378.2 341.3 376.4 342.1 392.8 343.0 369.2 343.8 369.5 344.6 379.3 345.4 374.7 346.2 380.8 347.0 375.8 347.8 378.4"/><path stroke="#ff0000" d="M347.8 378.4L348.6 378.2 349.3 371.3 350.1 377.7 350.8 374.2 351.5 384.3 352.3 388.2 353.0 389.4 353.7 387.4 354.4 384.2 355.1 388.5 355.8 379.5 356.5 412.9 357.1 394.2 357.8 402.5 358.5 403.7 359.1 398.7 359.7 398.1 360.4 392.2 361.0 410.2 361.6 396.4 362.3 411.8 362.9 407.6 363.5 420.5 364.1 410.6 364.7 412.2 365.3 412.5 365.8 420.7 366.4 422.0 367.0 412.1 367.6 409.0 368.1 411.2 368.7 418.4 369.2 428.2 369.8 424.5 370.3 415.9 370.9 419.4 371.4 428.9 371.9 431.0 372.5 437.2 373.0 438.4 373.5 432.3 374.0 418.2 374.5 428.6 375.0 426.6 375.5 422.8 376.0 447.1 376.5 433.9 377.0 429.3 377.5 435.0 378.0 431.0 378.4 438.7 378.9 439.5 379.4 435.1 379.8 438.9 380.3 434.0 380.8 460.5 381.2 437.4 381.7 439.0 382.1 447.7 382.6 439.1 383.0 449.2 383.5 461.5 383.9 450.0 384.3 449.9 384.8 450.4 385.2 442.4 385.6 447.4 386.0 444.8 386.5 467.9 386.9 438.7 387.3 452.1 387.7 448.7 388.1 443.7 388.5 478.0 388.9 449.6 389.3 432.7 389.7 442.2 390.1 444.2 390.5 457.2 390.9 453.6 391.3 450.1 391.7 438.8 392.0 463.5 392.4 437.9 392.8 443.8 393.2 439.6 393.6 454.1 393.9 453.1 394.3 446.3 394.7 434.0 395.0 437.1 395.4 450.3 395.8 433.6 396.1 446.9 396.5 461.2 396.8 437.7 397.2 452.1 397.5 431.0 397.9 445.3 398.2 447.7 398.6 450.1 398.9 440.9 399.3 453.2 399.6 443.4 399.9 445.0 400.3 456.3 400.6 436.1 401.0 445.4 401.3 450.7 401.6 439.7 401.9 437.5 402.3 435.5 402.6 445.4 402.9 455.8 403.2 451.5 403.6 423.3 403.9 427.4 404.2 449.5 404.5 435.2 404.8 439.2 405.1 437.2 405.4 438.6 405.7 441.2 406.0 437.2 406.4 456.9 406.7 441.6 407.0 451.7 407.3 443.8 407.6 437.2 407.9 450.3 408.2 445.2 408.5 429.1 408.7 435.6 409.0 445.6 409.3 451.9 409.6 444.5 409.9 445.3 410.2 450.5 410.5 440.9 410.8 442.8 411.0 447.3 411.3 450.4 411.6 435.5 411.9 450.5 412.2 443.5 412.4 438.3 412.7 441.6 413.0 452.2 413.3 439.9 413.5 441.4 413.8 442.1 414.1 441.7 414.4 463.7 414.6 456.1 414.9 436.6 415.1 433.1 415.4 442.7 415.7 436.3 415.9 436.2 416.2 442.8 416.5 444.7 416.7 433.3 417.0 447.7 417.2 428.7 417.5 445.7 417.7 436.6 418.0 441.3 418.2 432.6 418.5 452.2 418.8 448.0 419.0 439.8 419.2 435.4 419.5 436.9 419.7 450.6 420.0 458.5 420.2 444.6 420.5 447.5 420.7 433.0 421.0 447.2 421.2 435.2 421.4 456.3 421.7 449.3 421.9 451.4 422.2 431.6 422.4 441.7 422.6 445.4 422.9 430.4 423.1 435.0 423.3 434.6 423.6 448.0 423.8 447.3 424.0 432.3 424.3 442.1 424.5 455.3 424.7 440.3 424.9 446.1 425.2 445.6 425.4 450.3 425.6 433.5 425.8 444.4 426.1 441.3 426.3 447.4 426.5 457.7 426.7 452.4 426.9 430.0 427.2 439.1 427.4 461.6 427.6 446.4 427.8 442.7 428.0 443.8 428.2 439.6 428.5 441.1 428.7 437.0 428.9 445.6 429.1 431.5 429.3 436.7 429.5 441.8 429.7 448.9 429.9 431.1 430.1 446.7 430.4 457.8 430.6 452.8 430.8 437.9 431.0 438.2 431.2 445.8 431.4 452.0 431.6 436.9 431.8 436.0 432.0 444.9 432.2 442.5 432.4 443.0 432.6 446.8 432.8 445.3 433.0 448.8 433.2 441.5 433.4 436.8 433.6 457.6 433.8 429.8 434.0 429.0 434.2 439.7 434.4 441.6 434.6 449.0 434.8 454.1 435.0 439.6 435.2 433.6 435.3 442.0 435.5 439.2 435.7 443.7 435.9 472.3 436.1 449.4 436.3 449.2 436.5 432.5 436.7 455.3 436.9 452.6 437.0 437.2 437.2 442.5 437.4 448.8 437.6 443.4 437.8 431.0 438.0 433.2 438.2 434.2 438.3 442.1 438.5 440.8 438.7 445.8 438.9 453.3 439.1 434.3 439.3 438.2 439.4 452.1 439.6 455.8 439.8 428.9 440.0 440.2 440.1 452.3 440.3 440.1 440.5 438.2 440.7 455.4 440.9 445.2 441.0 436.1 441.2 445.9 441.4 447.1 441.6 440.3 441.7 439.4 441.9 454.3 442.1 440.1 442.2 452.1 442.4 439.3 442.6 432.4 442.8 444.7 442.9 438.2 443.1 452.4 443.3 464.9 443.4 462.6 443.6 452.7 443.8 442.2 443.9 450.5 444.1 452.3 444.3 456.3 444.4 429.8 444.6 436.9 444.8 465.5 444.9 438.5 445.1 449.0 445.3 432.4 445.4 440.0 445.6 436.4 445.8 444.0 445.9 433.1 446.1 442.5 446.2 439.2 446.4 449.4 446.6 445.5 446.7 445.6 446.9 452.2 447.0 434.0 447.2 433.4 447.4 454.0 447.5 453.8 447.7 455.8 447.8 441.4 448.0 449.5 448.1 462.7 448.3 448.9 448.5 460.8 448.6 476.5 448.8 437.5 448.9 457.5 449.1 440.5 449.2 446.9 449.4 446.1 449.5 454.7 449.7 436.1 449.8 438.4 450.0 443.3 450.1 447.7 450.3 445.1 450.4 455.3 450.6 430.3 450.8 431.6 450.9 447.2 451.0 448.7 451.2 440.0 451.3 444.3 451.5 456.8 451.6 438.7 451.8 450.5 451.9 436.2 452.1 456.5 452.2 441.8 452.4 441.7 452.5 432.1 452.7 451.9 452.8 454.7 453.0 443.6 453.1 452.0 453.3 466.4 453.4 460.8 453.5 451.9 453.7 439.3"/></g><path d="M98.09 508.7v-2.4M98.09 286.6v2.4M123.53 508.7v-2.4M123.53 286.6v2.4M141.58 508.7v-2.4M141.58 286.6v2.4M155.58 508.7v-2.4M155.58 286.6v2.4M167.02 508.7v-2.4M167.02 286.6v2.4M176.69 508.7v-2.4M176.69 286.6v2.4M185.07 508.7v-2.4M185.07 286.6v2.4M192.46 508.7v-2.4M192.46 286.6v2.4M199.07 508.7v-4.4M199.07 286.6v4.4M242.56 508.7v-2.4M242.56 286.6v2.4M267.99 508.7v-2.4M267.99 286.6v2.4M286.04 508.7v-2.4M286.04 286.6v2.4M300.04 508.7v-2.4M300.04 286.6v2.4M311.48 508.7v-2.4M311.48 286.6v2.4M321.16 508.7v-2.4M321.16 286.6v2.4M329.53 508.7v-2.4M329.53 286.6v2.4M336.92 508.7v-2.4M336.92 286.6v2.4M343.53 508.7v-4.4M343.53 286.6v4.4M387.02 508.7v-2.4M387.02 286.6v2.4M412.46 508.7v-2.4M412.46 286.6v2.4M430.51 508.7v-2.4M430.51 286.6v2.4M444.51 508.7v-2.4M444.51 286.6v2.4M455.95 508.7v-2.4M455.95 286.6v2.4M465.62 508.7v-2.4M465.62 286.6v2.4M474.00 508.7v-2.4M474.00 286.6v2.4M481.39 508.7v-2.4M481.39 286.6v2.4M54.6 495.33h2.4M488.0 495.33h-2.4M54.6 487.51h2.4M488.0 487.51h-2.4M54.6 481.96h2.4M488.0 481.96h-2.4M54.6 477.65h2.4M488.0 477.65h-2.4M54.6 474.13h2.4M488.0 474.13h-2.4M54.6 471.16h2.4M488.0 471.16h-2.4M54.6 468.58h2.4M488.0 468.58h-2.4M54.6 466.31h2.4M488.0 466.31h-2.4M54.6 464.28h4.4M488.0 464.28h-4.4M54.6 450.91h2.4M488.0 450.91h-2.4M54.6 443.09h2.4M488.0 443.09h-2.4M54.6 437.54h2.4M488.0 437.54h-2.4M54.6 433.23h2.4M488.0 433.23h-2.4M54.6 429.71h2.4M488.0 429.71h-2.4M54.6 426.74h2.4M488.0 426.74h-2.4M54.6 424.16h2.4M488.0 424.16h-2.4M54.6 421.89h2.4M488.0 421.89h-2.4M54.6 419.86h4.4M488.0 419.86h-4.4M54.6 406.49h2.4M488.0 406.49h-2.4M54.6 398.67h2.4M488.0 398.67h-2.4M54.6 393.12h2.4M488.0 393.12h-2.4M54.6 388.81h2.4M488.0 388.81h-2.4M54.6 385.29h2.4M488.0 385.29h-2.4M54.6 382.32h2.4M488.0 382.32h-2.4M54.6 379.74h2.4M488.0 379.74h-2.4M54.6 377.47h2.4M488.0 377.47h-2.4M54.6 375.44h4.4M488.0 375.44h-4.4M54.6 362.07h2.4M488.0 362.07h-2.4M54.6 354.25h2.4M488.0 354.25h-2.4M54.6 348.70h2.4M488.0 348.70h-2.4M54.6 344.39h2.4M488.0 344.39h-2.4M54.6 340.87h2.4M488.0 340.87h-2.4M54.6 337.90h2.4M488.0 337.90h-2.4M54.6 335.32h2.4M488.0 335.32h-2.4M54.6 333.05h2.4M488.0 333.05h-2.4M54.6 331.02h4.4M488.0 331.02h-4.4M54.6 317.65h2.4M488.0 317.65h-2.4M54.6 309.83h2.4M488.0 309.83h-2.4M54.6 304.28h2.4M488.0 304.28h-2.4M54.6 299.97h2.4M488.0 299.97h-2.4M54.6 296.45h2.4M488.0 296.45h-2.4M54.6 293.48h2.4M488.0 293.48h-2.4M54.6 290.90h2.4M488.0 290.90h-2.4M54.6 288.63h2.4M488.0 288.63h-2.4" stroke="#707070" stroke-width="1.1" fill="none"/><rect x="54.6" y="286.6" width="433.4" height="222.1" fill="none" stroke="#707070" stroke-width="1.3"/></g><text x="44.0" y="529.4" font-size="12.5">10<tspan dx="-2" dy="-5.6" font-size="9.3">&#8722;</tspan><tspan dx="0.4" font-size="9.3">8</tspan></text><text x="188.5" y="529.4" font-size="12.5">10<tspan dx="-2" dy="-5.6" font-size="9.3">&#8722;</tspan><tspan dx="0.4" font-size="9.3">7</tspan></text><text x="332.9" y="529.4" font-size="12.5">10<tspan dx="-2" dy="-5.6" font-size="9.3">&#8722;</tspan><tspan dx="0.4" font-size="9.3">6</tspan></text><text x="477.4" y="529.4" font-size="12.5">10<tspan dx="-2" dy="-5.6" font-size="9.3">&#8722;</tspan><tspan dx="0.4" font-size="9.3">5</tspan></text><text x="49.4" y="293.0" text-anchor="end" font-size="12.5">10<tspan dx="0.8" dy="-6" font-size="9.3">8</tspan></text><text x="49.4" y="337.4" text-anchor="end" font-size="12.5">10<tspan dx="0.8" dy="-6" font-size="9.3">7</tspan></text><text x="49.4" y="381.8" text-anchor="end" font-size="12.5">10<tspan dx="0.8" dy="-6" font-size="9.3">6</tspan></text><text x="49.4" y="426.3" text-anchor="end" font-size="12.5">10<tspan dx="0.8" dy="-6" font-size="9.3">5</tspan></text><text x="49.4" y="470.7" text-anchor="end" font-size="12.5">10<tspan dx="0.8" dy="-6" font-size="9.3">4</tspan></text><text x="49.4" y="515.1" text-anchor="end" font-size="12.5">10<tspan dx="0.8" dy="-6" font-size="9.3">3</tspan></text>
<rect x="386" y="21" width="99" height="51" fill="#fff"/>
<rect x="384" y="291" width="99" height="50" fill="#fff"/>
<path filter="url(#bl)" d="M389.4 27H426.9" stroke="#222" stroke-width="0.95"/><text x="430.0" y="30.6" font-size="11.5">Original</text><path filter="url(#bl)" d="M389.4 40.2H426.9" stroke="#3ccc3c" stroke-width="0.95"/><text x="430.0" y="43.8" font-size="11.5">EMD-PCA</text><path filter="url(#bl)" d="M389.4 53.4H426.9" stroke="#5a50d0" stroke-width="0.95"/><text x="430.0" y="57.0" font-size="11.5">WD-PCA</text><path filter="url(#bl)" d="M389.4 66.6H426.9" stroke="#d84860" stroke-width="0.95"/><text x="430.0" y="70.2" font-size="11.5">Our method</text>
<path filter="url(#bl)" d="M387 296.4H423.8" stroke="#222" stroke-width="0.95"/><text x="427.4" y="300.0" font-size="11.5">Original</text><path filter="url(#bl)" d="M387 309.6H423.8" stroke="#3ccc3c" stroke-width="0.95"/><text x="427.4" y="313.2" font-size="11.5">EMD-PCA</text><path filter="url(#bl)" d="M387 322.8H423.8" stroke="#5a50d0" stroke-width="0.95"/><text x="427.4" y="326.4" font-size="11.5">WD-PCA</text><path filter="url(#bl)" d="M387 336H423.8" stroke="#d84860" stroke-width="0.95"/><text x="427.4" y="339.6" font-size="11.5">Our method</text>
<text x="63.0" y="229.2" font-size="15.2" letter-spacing="0.4">(b)</text>
<text x="66.4" y="496.3" font-size="15.2" letter-spacing="0.2">(c)</text>
<text x="271.5" y="269.1" text-anchor="middle" font-size="14">Frequency (cpy)</text>
<text x="271.5" y="536" text-anchor="middle" font-size="14">Frequency (cpy)</text>
<text transform="translate(22.3 129.2) rotate(-90)" text-anchor="middle" font-size="14">power spectral density (mm<tspan dy="-6" font-size="10.5">2</tspan><tspan dy="6">/cpy)</tspan></text>
<text transform="translate(25.9 397.6) rotate(-90)" text-anchor="middle" font-size="14">power spectral density (mm<tspan dy="-6" font-size="10.5">2</tspan><tspan dy="6">/cpy)</tspan></text>
</g>
</svg>
</body></html>
